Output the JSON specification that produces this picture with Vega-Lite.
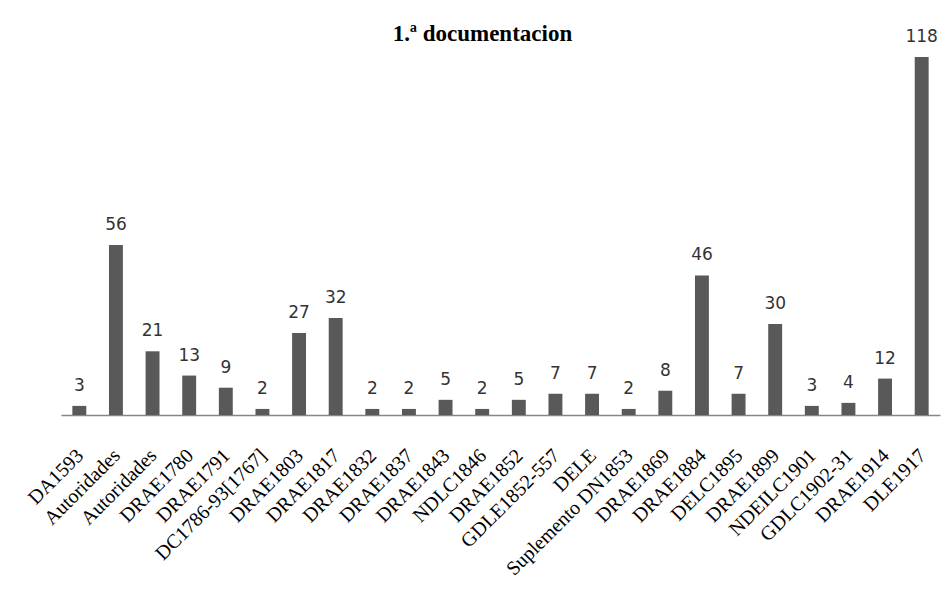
{
  "$schema": "https://vega.github.io/schema/vega-lite/v6.json",
  "width": 879,
  "height": 358,
  "autosize": {"type": "none"},
  "padding": {"left": 61, "top": 57, "right": 6, "bottom": 175},
  "background": "white",
  "title": {
    "text": "1.ª documentacion",
    "font": "Liberation Serif",
    "fontSize": 23,
    "fontWeight": "bold",
    "color": "#000000",
    "anchor": "middle",
    "frame": "group",
    "offset": -18,
    "dx": -18
  },
  "data": {
    "values": [
      {"fuente": "DA1593", "n": 3},
      {"fuente": "Autoridades", "n": 56},
      {"fuente": "Autoridades\u200b", "n": 21},
      {"fuente": "DRAE1780", "n": 13},
      {"fuente": "DRAE1791", "n": 9},
      {"fuente": "DC1786-93[1767]", "n": 2},
      {"fuente": "DRAE1803", "n": 27},
      {"fuente": "DRAE1817", "n": 32},
      {"fuente": "DRAE1832", "n": 2},
      {"fuente": "DRAE1837", "n": 2},
      {"fuente": "DRAE1843", "n": 5},
      {"fuente": "NDLC1846", "n": 2},
      {"fuente": "DRAE1852", "n": 5},
      {"fuente": "GDLE1852-557", "n": 7},
      {"fuente": "DELE", "n": 7},
      {"fuente": "Suplemento DN1853", "n": 2},
      {"fuente": "DRAE1869", "n": 8},
      {"fuente": "DRAE1884", "n": 46},
      {"fuente": "DELC1895", "n": 7},
      {"fuente": "DRAE1899", "n": 30},
      {"fuente": "NDEILC1901", "n": 3},
      {"fuente": "GDLC1902-31", "n": 4},
      {"fuente": "DRAE1914", "n": 12},
      {"fuente": "DLE1917", "n": 118}
    ]
  },
  "encoding": {
    "x": {
      "field": "fuente",
      "type": "nominal",
      "sort": null,
      "scale": {"paddingInner": 0.62, "paddingOuter": 0.31},
      "axis": {
        "title": null,
        "labelAngle": -45,
        "labelFont": "Liberation Serif",
        "labelFontSize": 20,
        "labelColor": "#000000",
        "labelPadding": 30,
        "labelOffset": -6,
        "ticks": false,
        "domainColor": "#868686",
        "domainWidth": 1.5,
        "labelOverlap": false,
        "labelLimit": 400
      }
    },
    "y": {
      "field": "n",
      "type": "quantitative",
      "scale": {"domain": [0, 118], "nice": false, "zero": true},
      "axis": null
    }
  },
  "layer": [
    {"mark": {"type": "bar", "color": "#595959"}},
    {
      "mark": {
        "type": "text",
        "baseline": "alphabetic",
        "dy": -15,
        "font": "DejaVu Sans",
        "fontSize": 17,
        "color": "#333333"
      },
      "encoding": {"text": {"field": "n", "type": "quantitative"}}
    }
  ],
  "config": {"view": {"stroke": null}}
}
